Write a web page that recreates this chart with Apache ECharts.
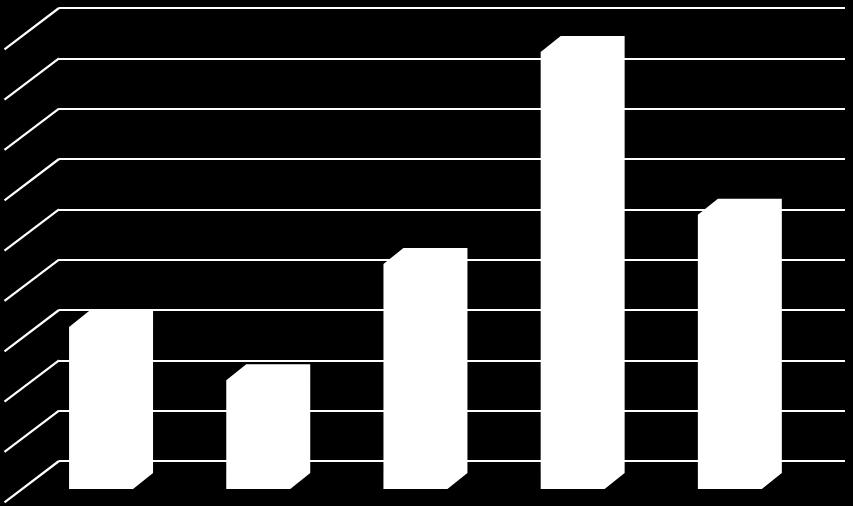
<!DOCTYPE html>
<html>
<head>
<meta charset="utf-8">
<script src="https://cdn.jsdelivr.net/npm/echarts@6/dist/echarts.min.js"></script>
<style>
html,body{margin:0;padding:0;background:#000;}
#chart{width:853px;height:506px;}
</style>
</head>
<body>
<div id="chart"></div>
<script>
const categories = ['A', 'B', 'C', 'D', 'E'];
const values = [3.22, 2.16, 4.47, 8.68, 5.45];
const gridLevels = [0, 1, 2, 3, 4, 5, 6, 7, 8, 9];

const chart = echarts.init(document.getElementById('chart'));

function renderBar(params, api) {
  const idx = api.value(0);
  const top = api.coord([idx, api.value(1)]);
  const base = api.coord([idx, 0]);
  const bw = api.size([1, 0])[0];
  const cx = top[0];
  const L = cx - 0.436 * bw;
  const R = L + 0.407 * bw;
  const dx = 20, dy = 16, front = 28;
  const B = base[1] + front;
  const T = top[1] + front;
  return {
    type: 'polygon',
    shape: {
      points: [
        [L, B], [L, T], [L + dx, T - dy], [R + dx, T - dy], [R + dx, B - dy], [R, B]
      ]
    },
    style: { fill: '#ffffff', stroke: null }
  };
}

function renderDiag(params, api) {
  const p = api.coord([0, api.value(1)]);
  const x0 = params.coordSys.x;
  return {
    type: 'line',
    shape: { x1: x0, y1: p[1], x2: x0 - 54.5, y2: p[1] + 41.3 },
    style: { stroke: '#ffffff', lineWidth: 2.2 }
  };
}

chart.setOption({
  backgroundColor: '#000000',
  animation: false,
  grid: { left: 59, right: 8, top: 8, bottom: 45 },
  xAxis: {
    type: 'category',
    data: categories,
    axisLine: { show: false },
    axisTick: { show: false },
    axisLabel: { show: false },
    splitLine: { show: false }
  },
  yAxis: {
    type: 'value',
    min: 0,
    max: 9,
    interval: 1,
    axisLine: { show: false },
    axisTick: { show: false },
    axisLabel: { show: false },
    splitLine: { show: true, lineStyle: { color: '#ffffff', width: 2.2 } }
  },
  series: [
    {
      type: 'custom',
      renderItem: renderDiag,
      data: gridLevels.map(v => [0, v]),
      encode: { x: 0, y: 1 },
      clip: false,
      silent: true,
      z: 1
    },
    {
      type: 'custom',
      renderItem: renderBar,
      data: values.map((v, i) => [i, v]),
      encode: { x: 0, y: 1 },
      clip: false,
      z: 2
    }
  ]
});
</script>
</body>
</html>
